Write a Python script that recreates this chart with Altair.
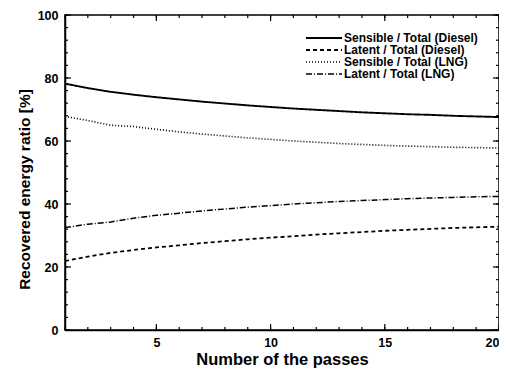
import altair as alt
import pandas as pd

passes = list(range(1, 21))
series_names = ["Sensible / Total (Diesel)", "Latent / Total (Diesel)",
                "Sensible / Total (LNG)", "Latent / Total (LNG)"]
sens_diesel = [78.2, 76.8, 75.6, 74.7, 73.9, 73.2, 72.5, 71.9, 71.3, 70.8,
               70.3, 69.9, 69.5, 69.1, 68.8, 68.5, 68.3, 68.0, 67.8, 67.6]
lat_diesel = [21.9, 23.3, 24.5, 25.4, 26.2, 26.9, 27.6, 28.2, 28.8, 29.3,
              29.8, 30.3, 30.7, 31.1, 31.5, 31.8, 32.1, 32.4, 32.6, 32.8]
sens_lng = [67.8, 66.5, 65.0, 64.6, 63.7, 62.9, 62.2, 61.6, 61.0, 60.5,
            60.0, 59.6, 59.2, 58.9, 58.6, 58.4, 58.2, 58.0, 57.9, 57.8]
lat_lng = [32.5, 33.6, 34.3, 35.5, 36.4, 37.1, 37.8, 38.4, 39.0, 39.5,
           40.0, 40.4, 40.8, 41.1, 41.4, 41.7, 41.9, 42.1, 42.3, 42.4]

x_minor = list(range(1, 21))
x_major = [5, 10, 15, 20]
y_minor = list(range(0, 101, 4))
y_major = list(range(0, 101, 20))

rows = []
for name, vals in zip(series_names, [sens_diesel, lat_diesel, sens_lng, lat_lng]):
    for p, v in zip(passes, vals):
        rows.append({"passes": p, "ratio": v, "series": name})
df = pd.DataFrame(rows)

W, H = 434, 315
FONT = "Liberation Sans"

xscale = alt.Scale(domain=[1, 20], nice=False, zero=False)
yscale = alt.Scale(domain=[0, 100], nice=False)

lines = alt.Chart(df).mark_line(color="black", clip=True).encode(
    x=alt.X("passes:Q", scale=xscale,
            axis=alt.Axis(title="Number of the passes", values=x_major, format="d",
                          ticks=False, labelPadding=6, grid=False,
                          titlePadding=3, titleFontSize=16.5)),
    y=alt.Y("ratio:Q", scale=yscale,
            axis=alt.Axis(title="Recovered energy ratio [%]", values=y_major,
                          ticks=False, labelPadding=7, grid=False,
                          titlePadding=5, titleY=174)),
    strokeDash=alt.StrokeDash("series:N",
        scale=alt.Scale(domain=series_names,
                        range=[[1, 0], [4, 3], [1, 2], [6, 2, 1, 2]]),
        legend=alt.Legend(title=None, orient="none", legendX=263, legendY=17,
                          symbolType="M-5.6,0H1.6", symbolSize=100,
                          symbolStrokeColor="black", symbolStrokeWidth=1.5,
                          labelFont=FONT, labelFontSize=12, labelFontWeight="bold",
                          labelColor="black", rowPadding=0, labelOffset=4)),
    strokeWidth=alt.StrokeWidth("series:N",
        scale=alt.Scale(domain=series_names, range=[1.9, 1.5, 1.5, 1.5]),
        legend=None),
)

dfx = pd.DataFrame({"t": x_minor + x_major, "len": [3] * len(x_minor) + [6] * len(x_major)})
dfy = pd.DataFrame({"t": y_minor + y_major, "len": [3] * len(y_minor) + [6] * len(y_major)})

def xticks(y0, sign):
    base = alt.Chart(dfx)
    out = []
    for L in (3, 6):
        out.append(base.transform_filter(alt.datum.len == L).mark_rule(color="black", strokeWidth=1.2).encode(
            x=alt.X("t:Q", scale=xscale), y=alt.value(y0), y2=alt.value(y0 + sign * L)))
    return out

def yticks(x0, sign):
    base = alt.Chart(dfy)
    out = []
    for L in (3, 6):
        out.append(base.transform_filter(alt.datum.len == L).mark_rule(color="black", strokeWidth=1.2).encode(
            y=alt.Y("t:Q", scale=yscale), x=alt.value(x0), x2=alt.value(x0 + sign * L)))
    return out

tick_layers = xticks(H, -1) + xticks(0, 1) + yticks(0, 1) + yticks(W, -1)

chart = alt.layer(lines, *tick_layers).properties(
    width=W, height=H,
    autosize=alt.AutoSizeParams(type="none"),
    padding={"left": 57, "top": 7, "right": 0, "bottom": 38},
).configure_view(stroke="black", strokeWidth=1.5).configure_axis(
    domainColor="black", domainWidth=1.5,
    labelFont=FONT, labelFontSize=12.5, labelFontWeight="bold", labelColor="black",
    titleFont=FONT, titleFontSize=15.5, titleFontWeight="bold", titleColor="black",
).configure_legend(labelLimit=300)

chart.save("out.html", embed_options={"renderer": "svg", "actions": False})
